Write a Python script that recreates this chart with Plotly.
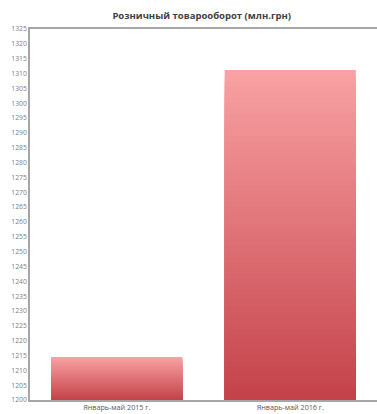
import plotly.graph_objects as go

categories = ["Январь-май 2015 г.", "Январь-май 2016 г."]
values = [1214.5, 1311.2]
y_ticks = list(range(1200, 1326, 5))
title = "Розничный товарооборот (млн.грн)"

BASE = 1200
N = 60
top_rgb = (249, 162, 164)
bot_rgb = (196, 66, 74)

xs, ys, bases, cols = [], [], [], []
for cat, v in zip(categories, values):
    h = v - BASE
    for k in range(N, 0, -1):
        frac = k / N  # segment spans from base to frac*h; color at its top
        t = (k - 0.5) / N
        r = round(bot_rgb[0] + (top_rgb[0] - bot_rgb[0]) * t)
        g = round(bot_rgb[1] + (top_rgb[1] - bot_rgb[1]) * t)
        b = round(bot_rgb[2] + (top_rgb[2] - bot_rgb[2]) * t)
        xs.append(cat)
        ys.append(h * frac)
        bases.append(BASE)
        cols.append(f"rgb({r},{g},{b})")

fig = go.Figure()
fig.add_trace(go.Bar(
    x=xs, y=ys, base=bases,
    marker=dict(color=cols, line=dict(width=0)),
    hoverinfo="skip", showlegend=False,
))

fig.update_layout(
    width=377, height=414,
    margin=dict(l=30, r=0, t=29, b=14),
    paper_bgcolor="white", plot_bgcolor="white",
    barmode="overlay", bargap=0.245,
    font=dict(family="Open Sans, Noto Sans, sans-serif", color="#595959"),
    title=dict(text=f"<b>{title}</b>", x=0.535, xanchor="center", y=0.961, yanchor="middle",
               font=dict(size=9.5, color="#404040")),
)
fig.update_xaxes(
    type="category", categoryorder="array", categoryarray=categories,
    showline=True, linecolor="#a6a6a6", linewidth=1.5, mirror=True,
    showgrid=False, ticks="", tickfont=dict(size=7.2, color="#595959"),
)
fig.update_yaxes(
    range=[1200, 1325], tickvals=y_ticks, ticktext=[str(t) for t in y_ticks],
    showline=True, linecolor="#a6a6a6", linewidth=1.5, mirror=False,
    showgrid=False, zeroline=False, ticks="", tickfont=dict(size=6.8, color="#808080"),
)

fig.write_html("out.html")
